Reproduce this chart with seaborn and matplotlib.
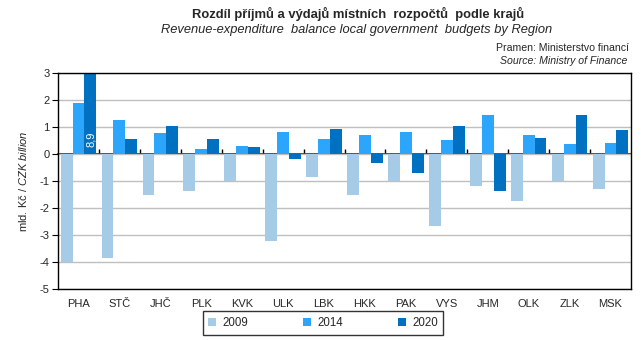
import matplotlib
matplotlib.use("Agg")
import matplotlib.pyplot as plt
import seaborn as sns
import pandas as pd
import numpy as np

# Budget balance by region, bn CZK
regions = ["PHA", "STČ", "JHČ", "PLK", "KVK", "ULK", "LBK", "HKK",
           "PAK", "VYS", "JHM", "OLK", "ZLK", "MSK"]
years = ["2009", "2014", "2020"]
bal_2009 = [-4.00, -3.84, -1.51, -1.36, -1.01, -3.21, -0.84, -1.51,
            -1.00, -2.68, -1.17, -1.73, -1.00, -1.28]
bal_2014 = [1.90, 1.27, 0.79, 0.17, 0.31, 0.83, 0.57, 0.72,
            0.83, 0.53, 1.46, 0.72, 0.38, 0.42]
bal_2020 = [8.90, 0.57, 1.05, 0.57, 0.27, -0.20, 0.94, -0.32,
            -0.69, 1.05, -1.36, 0.60, 1.46, 0.90]
colors = ["#A6CBE6", "#2CA5FC", "#0070C0"]
y_ticks = [-5, -4, -3, -2, -1, 0, 1, 2, 3]

df = pd.DataFrame({
    "region": regions * 3,
    "year": sum([[y] * len(regions) for y in years], []),
    "value": bal_2009 + bal_2014 + bal_2020,
})

sns.set_theme(style="white")
plt.rcParams["font.family"] = ["Liberation Sans", "DejaVu Sans"]
plt.rcParams["mathtext.fontset"] = "custom"
plt.rcParams["mathtext.rm"] = "Liberation Sans"
plt.rcParams["mathtext.it"] = "Liberation Sans:italic"

fig = plt.figure(figsize=(6.43, 3.40), dpi=100)
ax = fig.add_axes([58 / 643, 1 - 289 / 340, (631 - 58) / 643, (289 - 73) / 340])

sns.barplot(data=df, x="region", y="value", hue="year", order=regions,
            hue_order=years, palette=colors, width=0.87, saturation=1,
            linewidth=0, ax=ax, legend=True)

ax.set_ylim(y_ticks[0], y_ticks[-1])
ax.set_xlim(-0.5, len(regions) - 0.5)
ax.set_yticks(y_ticks)
ax.set_yticklabels([str(t) for t in y_ticks], fontsize=8)
ax.yaxis.grid(True, color="#BFBFBF", linewidth=1)
ax.set_axisbelow(True)
ax.tick_params(axis="y", which="major", left=True, direction="out",
               length=4, width=0.8, color="black", pad=2)
ax.tick_params(axis="x", which="major", bottom=False, length=0, labelsize=8, pad=7)
ax.set_xlabel("")
ax.set_ylabel("mld. Kč / $\\mathit{CZK\\ billion}$", fontsize=8, labelpad=8)
for sp in ax.spines.values():
    sp.set_visible(True)
    sp.set_color("black")
    sp.set_linewidth(1)

# zero line with category separator ticks
zero_frac = (0 - y_ticks[0]) / (y_ticks[-1] - y_ticks[0])
sec = ax.secondary_xaxis(zero_frac)
sec.set_xticks(np.arange(0.5, len(regions) - 0.5, 1.0))
sec.set_xticklabels([])
sec.tick_params(direction="out", length=3.5, width=1, color="black")
sec.spines["bottom"].set_color("black")
sec.spines["bottom"].set_linewidth(1)

# value label for the clipped bar
pha_idx = regions.index("PHA")
ax.text(pha_idx + 0.30, 0.55, f"{bal_2020[pha_idx]:.1f}".replace(".", ","),
        rotation=90, color="white", fontsize=8, ha="center", va="center")

leg = ax.legend(loc="center", bbox_to_anchor=(323 / 643, 1 - 323 / 340),
                bbox_transform=fig.transFigure, ncol=3, frameon=True,
                fontsize=8.3, handlelength=0.7, handleheight=0.7,
                columnspacing=4.8, handletextpad=0.5, borderpad=0.5,
                borderaxespad=0, fancybox=False)
leg.get_frame().set_edgecolor("black")
leg.get_frame().set_linewidth(1)

fig.text(358 / 643, 1 - 14 / 340,
         "Rozdíl příjmů a výdajů místních  rozpočtů  podle krajů",
         ha="center", va="center", fontsize=9.4, fontweight="bold")
fig.text(357 / 643, 1 - 30 / 340,
         "Revenue-expenditure  balance local government  budgets by Region",
         ha="center", va="center", fontsize=9.3, style="italic")
fig.text(629 / 643, 1 - 48 / 340, "Pramen: Ministerstvo financí",
         ha="right", va="center", fontsize=7.6)
fig.text(627 / 643, 1 - 61 / 340, "Source: Ministry of Finance",
         ha="right", va="center", fontsize=7.6, style="italic")

fig.savefig("out.png", dpi=100, facecolor="white")
